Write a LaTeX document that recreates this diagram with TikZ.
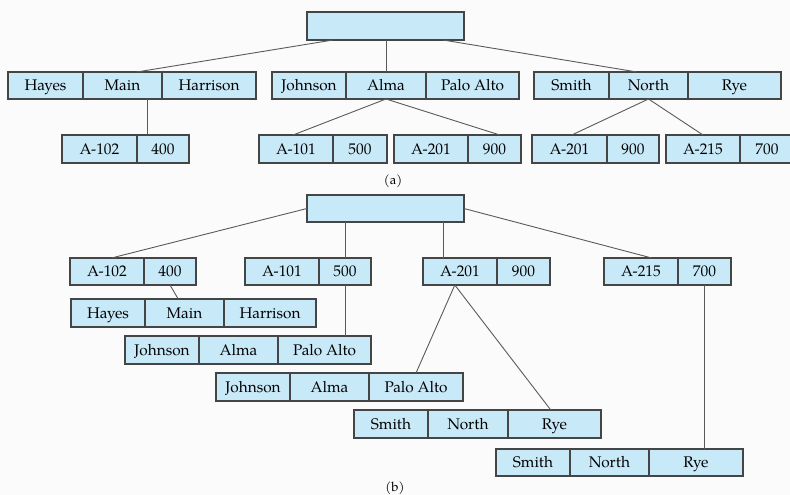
\documentclass[tikz,border=0pt]{standalone}
\usepackage{fontspec}
\setmainfont{TeX Gyre Pagella}
\usetikzlibrary{calc}
\definecolor{cellfill}{HTML}{C8E9F8}
\definecolor{cellline}{HTML}{454545}
\definecolor{linkgray}{HTML}{5A5A5A}
\definecolor{paper}{HTML}{FBFBFB}
\tikzset{
  cell/.style={draw=cellline, fill=cellfill, line width=1.1pt, inner sep=0pt, outer sep=0pt,
    font=\fontsize{15.4}{18}\selectfont, text height=10.4pt, text depth=0pt},
  link/.style={draw=linkgray, line width=0.9pt},
  caption/.style={font=\fontsize{13}{15}\selectfont, inner sep=0pt}
}
% one field of a record: name, left, right, top, bottom, text
\newcommand{\fieldbox}[6]{%
  \node[cell, minimum width={#3-#2}, minimum height={#5-#4}] (#1) at ({(#2+#3)/2},{(#4+#5)/2}) {#6};}
\begin{document}
\begin{tikzpicture}[x=1pt, y=-1pt]
\clip (0,0) rectangle (790,495);
\fill[paper] (0,0) rectangle (790,495);
\useasboundingbox (0,0) rectangle (790,495);

% ---------- (a) ----------
\fieldbox{ra}{307}{464}{12}{40}{}
% index entries
\fieldbox{haH}{8}{83}{72}{99}{Hayes}
\fieldbox{haM}{83}{162}{72}{99}{Main}
\fieldbox{haR}{162}{256}{72}{99}{Harrison}
\fieldbox{jaJ}{272}{346}{72}{99}{Johnson}
\fieldbox{jaA}{346}{426}{72}{99}{Alma}
\fieldbox{jaP}{426}{519}{72}{99}{Palo Alto}
\fieldbox{saS}{534}{609}{72}{99}{Smith}
\fieldbox{saN}{609}{688}{72}{99}{North}
\fieldbox{saR}{688}{781}{72}{99}{Rye}
% data records
\fieldbox{a102k}{62}{137}{135}{163}{A-102}
\fieldbox{a102v}{137}{189}{135}{163}{400}
\fieldbox{a101k}{259}{333}{135}{163}{A-101}
\fieldbox{a101v}{333}{387}{135}{163}{500}
\fieldbox{a201k}{394}{468}{135}{163}{A-201}
\fieldbox{a201v}{468}{521}{135}{163}{900}
\fieldbox{a201xk}{532}{607}{135}{163}{A-201}
\fieldbox{a201xv}{607}{659}{135}{163}{900}
\fieldbox{a215k}{666}{740}{135}{163}{A-215}
\fieldbox{a215v}{740}{794}{135}{163}{700}

\draw[link] ($(ra.south west)!0.166!(ra.south east)$) -- ($(haM.north west)!0.68!(haM.north east)$);
\draw[link] (jaA.north |- ra.south) -- (jaA.north);
\draw[link] ($(ra.south west)!0.866!(ra.south east)$) -- ($(saN.north west)!0.354!(saN.north east)$);
\coordinate (mainfoot) at ($(haM.south west)!0.81!(haM.south east)$);
\draw[link] (mainfoot) -- (mainfoot |- a102v.north);
\draw[link] (jaA.south) -- ($(a101k.north west)!0.46!(a101k.north east)$);
\draw[link] (jaA.south) -- ($(a201v.north west)!0.6!(a201v.north east)$);
\draw[link] (saN.south) -- ($(a201xk.north west)!0.53!(a201xk.north east)$);
\draw[link] (saN.south) -- (a215k.north);

\node[caption] (capa) at (393,181) {(a)};

% ---------- (b) ----------
\fieldbox{rb}{307}{464}{195}{222}{}
% index entries
\fieldbox{b102k}{70}{144}{258}{285}{A-102}
\fieldbox{b102v}{144}{196}{258}{285}{400}
\fieldbox{b101k}{245}{319}{258}{285}{A-101}
\fieldbox{b101v}{319}{371}{258}{285}{500}
\fieldbox{b201k}{423}{497}{258}{285}{A-201}
\fieldbox{b201v}{497}{550}{258}{285}{900}
\fieldbox{b215k}{604}{678}{258}{285}{A-215}
\fieldbox{b215v}{678}{731}{258}{285}{700}
% data records
\fieldbox{hbH}{71}{145}{299}{327}{Hayes}
\fieldbox{hbM}{145}{224}{299}{327}{Main}
\fieldbox{hbR}{224}{316}{299}{327}{Harrison}
\fieldbox{jbJ}{125}{199}{336}{364}{Johnson}
\fieldbox{jbA}{199}{278}{336}{364}{Alma}
\fieldbox{jbP}{278}{371}{336}{364}{Palo Alto}
\fieldbox{jcJ}{216}{290}{373}{401}{Johnson}
\fieldbox{jcA}{290}{369}{373}{401}{Alma}
\fieldbox{jcP}{369}{463}{373}{401}{Palo Alto}
\fieldbox{sbS}{354}{428}{410}{438}{Smith}
\fieldbox{sbN}{428}{508}{410}{438}{North}
\fieldbox{sbR}{508}{601}{410}{438}{Rye}
\fieldbox{scS}{496}{570}{449}{476}{Smith}
\fieldbox{scN}{570}{649}{449}{476}{North}
\fieldbox{scR}{649}{743}{449}{476}{Rye}

\draw[link] (rb.west) -- ($(b102k.north west)!0.56!(b102k.north east)$);
\draw[link] (b101v.north |- rb.south) -- (b101v.north);
\coordinate (rbfoot) at ($(rb.south west)!0.868!(rb.south east)$);
\draw[link] (rbfoot) -- (rbfoot |- b201k.north);
\draw[link] (rb.east) -- ($(b215k.north west)!0.645!(b215k.north east)$);
\draw[link] (b102v.south) -- ($(hbM.north west)!0.42!(hbM.north east)$);
\draw[link] (b101v.south) -- (b101v.south |- jbP.north);
\coordinate (b201foot) at ($(b201k.south west)!0.43!(b201k.south east)$);
\draw[link] (b201foot) -- (jcP.north);
\draw[link] (b201foot) -- ($(sbR.north west)!0.46!(sbR.north east)$);
\draw[link] (b215v.south) -- (b215v.south |- scR.north);

\node[caption] (capb) at (395,488) {(b)};
\end{tikzpicture}
\end{document}
